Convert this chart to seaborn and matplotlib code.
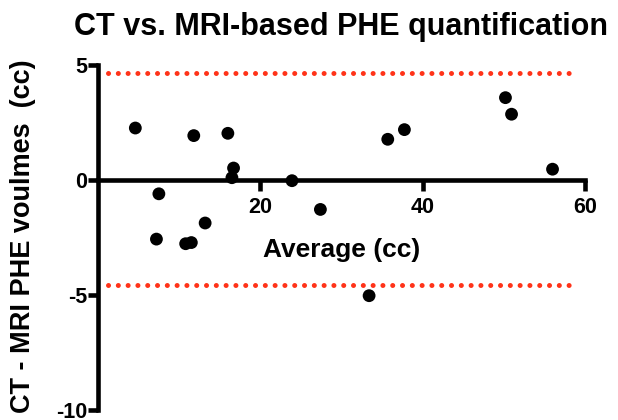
# Bland-Altman style plot: CT vs MRI PHE volumes
import matplotlib
matplotlib.use("Agg")
import matplotlib.pyplot as plt
import seaborn as sns
import pandas as pd

# values
average_cc = [4.6, 7.5, 7.2, 11.8, 10.8, 11.5, 13.2, 16.0, 16.7, 16.5,
              23.9, 27.4, 33.4, 35.7, 37.75, 50.2, 50.95, 56.0]
diff_cc = [2.26, -0.6, -2.57, 1.93, -2.77, -2.72, -1.87, 2.03, 0.52, 0.1,
           -0.03, -1.28, -5.03, 1.77, 2.19, 3.58, 2.86, 0.47]
loa_upper = 4.67
loa_lower = -4.57
loa_x = [1.2, 58.7]
x_ticks = [20, 40, 60]
y_ticks = [-10, -5, 0, 5]

sns.set_style("ticks")
plt.rcParams['font.family'] = ['Liberation Sans', 'DejaVu Sans']
plt.rcParams['font.weight'] = 'bold'
plt.rcParams['axes.unicode_minus'] = False
for k in ['text.color', 'axes.labelcolor', 'xtick.color', 'ytick.color', 'axes.edgecolor']:
    plt.rcParams[k] = 'black'

df = pd.DataFrame({"Average": average_cc, "Diff": diff_cc})

fig = plt.figure(figsize=(6.18, 4.2), dpi=100)
ax = fig.add_axes([98 / 618, 10 / 420, 487 / 618, 345 / 420])

red = "#FF3319"
for y in [loa_upper, loa_lower]:
    ax.plot(loa_x, [y, y], color=red, lw=3.6, linestyle=(0, (0.01, 1.95)),
            dash_capstyle='round', zorder=1)

sns.scatterplot(data=df, x="Average", y="Diff", color="black", s=85,
                edgecolor="none", ax=ax, zorder=3, clip_on=False)

ax.set_xlim(0, 60)
ax.set_ylim(-10, 5)
ax.spines['top'].set_visible(False)
ax.spines['right'].set_visible(False)
ax.spines['bottom'].set_position(('data', 0))
for s in ['left', 'bottom']:
    ax.spines[s].set_linewidth(3.3)
    ax.spines[s].set_capstyle('projecting')

ax.set_xticks(x_ticks)
ax.set_yticks(y_ticks)
ax.tick_params(axis='x', length=8, width=3.3, pad=4, labelsize=15.5)
ax.tick_params(axis='y', length=7, width=3.3, pad=1, labelsize=15.5)
for lab in ax.get_xticklabels() + ax.get_yticklabels():
    lab.set_fontweight('bold')

ax.set_xlabel("")
ax.set_ylabel("")
ax.text(30, -3.05, "Average (cc)", ha='center', va='center',
        fontsize=19, fontweight='bold')
fig.text(23 / 618, 1 - 236 / 420, "CT - MRI PHE voulmes  (cc)",
         rotation=90, ha='center', va='center', fontsize=19.5, fontweight='bold')
fig.text(341 / 618, 1 - 35 / 420, "CT vs. MRI-based PHE quantification",
         ha='center', va='baseline', fontsize=22, fontweight='bold')

fig.savefig("out.png", dpi=100)
